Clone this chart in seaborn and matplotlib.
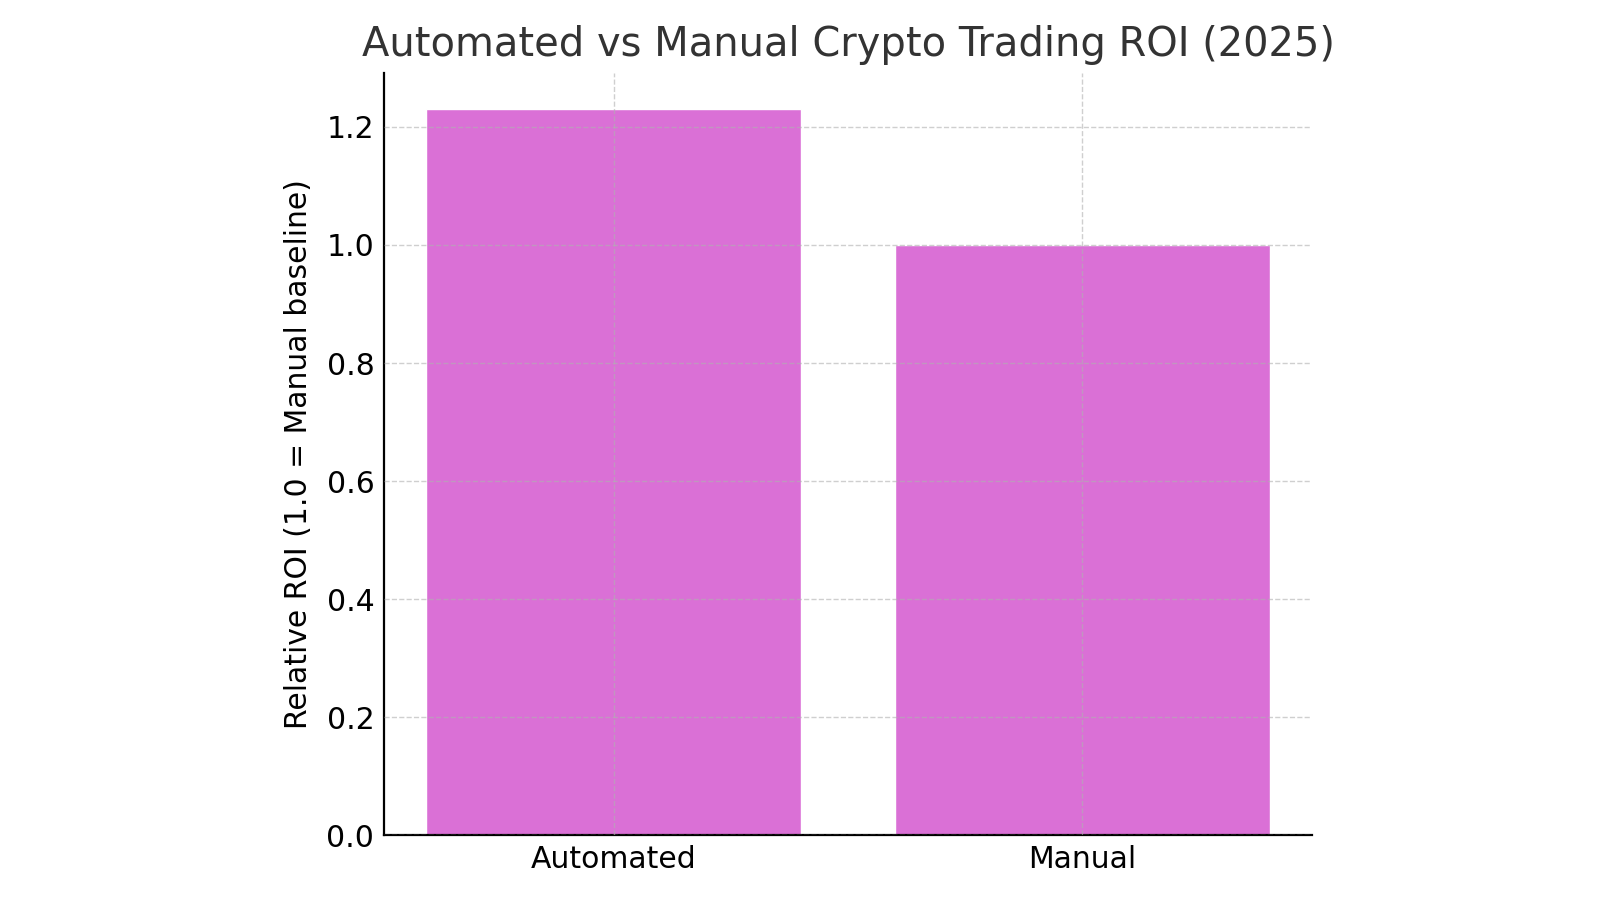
import matplotlib.pyplot as plt
import seaborn as sns
import pandas as pd

# data
methods = ["Automated", "Manual"]
roi = [1.23, 1.00]

df = pd.DataFrame({"method": methods, "roi": roi})

sns.set_style("white")
plt.rcParams["font.family"] = ["DejaVu Sans"]

fig = plt.figure(figsize=(16, 9), dpi=100)
ax = fig.add_axes([0.24, 0.072, 0.58, 0.847])

sns.barplot(data=df, x="method", y="roi", color="orchid", saturation=1,
            width=0.8, ax=ax)

ax.set_axisbelow(False)
ax.grid(True, linestyle="--", color="#b0b0b0", alpha=0.6, linewidth=1)
ax.set_xlim(-0.49, 1.49)
ax.set_ylim(0, 1.2915)
ax.set_yticks([0.0, 0.2, 0.4, 0.6, 0.8, 1.0, 1.2])

ax.tick_params(direction="in", labelsize=21.5, length=6, width=1.3,
               colors="black", pad=7)
for s in ["top", "right"]:
    ax.spines[s].set_visible(False)
for s in ["left", "bottom"]:
    ax.spines[s].set_color("black")
    ax.spines[s].set_linewidth(1.6)

ax.set_xlabel("")
ax.set_ylabel("Relative ROI (1.0 = Manual baseline)", fontsize=21.5,
              color="black", labelpad=10)
ax.set_title("Automated vs Manual Crypto Trading ROI (2025)", fontsize=28.8,
             color="#333333", pad=12)

fig.savefig("out.png", dpi=100)
